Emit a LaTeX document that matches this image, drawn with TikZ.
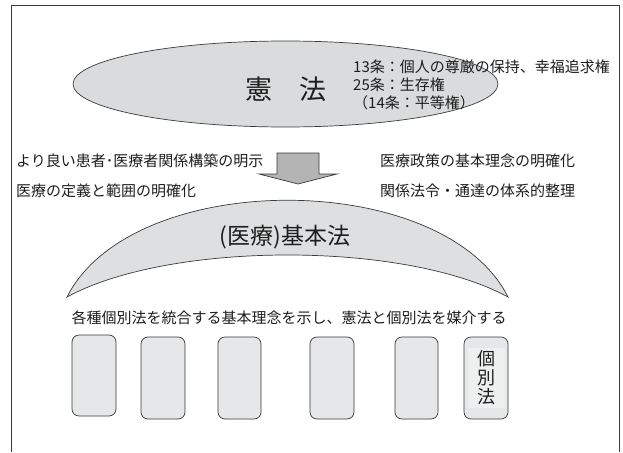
\documentclass[tikz,border=0pt]{standalone}
\usepackage{fontspec}
\setmainfont{Noto Sans CJK JP}
\usetikzlibrary{shapes.geometric}
\definecolor{linec}{HTML}{3A3A3A}
\definecolor{txtc}{HTML}{1E1E1E}
\definecolor{ellfill}{HTML}{DADBDC}
\definecolor{archfill}{HTML}{DEDFE0}
\definecolor{boxfill}{HTML}{E6E7E8}
\definecolor{boxinner}{HTML}{EEEFEF}
\definecolor{arrowfill}{HTML}{B4B4B4}
\begin{document}
\begin{tikzpicture}[x=1pt,y=-1pt,
  frame/.style={draw=linec,line width=0.9pt},
  shape line/.style={draw=linec,line width=0.7pt},
  lbl/.style={inner sep=0pt,text=txtc,font=\fontsize{15}{18}\selectfont},
  lblw/.style={lbl,anchor=west},
  ibox/.style={shape line,fill=boxfill,rounded corners=7pt,minimum width=44pt,minimum height=82pt,inner sep=0pt}
]
\useasboundingbox (0,0) rectangle (623,452);
\fill[white] (0,0) rectangle (623,452);
\draw[frame] (11,452) -- (11,5) -- (619,5) -- (619,452);

% constitution ellipse
\node[ellipse,shape line,fill=ellfill,minimum width=425pt,minimum height=86pt,inner sep=0pt] (kenpo) at (285.5,84) {};
\node[inner sep=0pt,text=txtc,font=\fontsize{27}{30}\selectfont] (kenpotxt) at (285.5,89) {憲　法};
\node[lblw] (a13) at (353,67) {13条：個人の尊厳の保持、幸福追求権};
\node[lblw] (a25) at (353,85) {25条：生存権};
\node[lblw] (a14) at (353,103) {（14条：平等権）};

% side texts
\node[lblw] (l1) at (16,161) {より良い患者･医療者関係構築の明示};
\node[lblw] (l2) at (16,191) {医療の定義と範囲の明確化};
\node[lblw] (r1) at (380,161) {医療政策の基本理念の明確化};
\node[lblw] (r2) at (380,191) {関係法令・通達の体系的整理};

% block arrow
\draw[shape line,fill=arrowfill] (277,153) -- (319,153) -- (319,174) -- (337,174)
  -- (298,184) -- (259,174) -- (277,174) -- cycle;

% arch of basic law
\draw[shape line,fill=archfill] (67,297) .. controls (132,168) and (443,168) .. (508,297)
  .. controls (405,241) and (170,241) .. cycle;
\node[inner sep=0pt,text=txtc,font=\fontsize{23}{26}\selectfont] (kihon) at (285,237) {(医療)基本法};

% caption
\node[lbl] (cap) at (289,318) {各種個別法を統合する基本理念を示し、憲法と個別法を媒介する};

% individual laws
\node[ibox,minimum height=81pt] (b1) at (94,375.5) {};
\node[ibox] (b2) at (163,378) {};
\node[ibox,minimum width=43pt] (b3) at (239.5,378) {};
\node[ibox] (b4) at (332,378) {};
\node[ibox,minimum width=43pt] (b5) at (416.5,378) {};
\node[ibox] (b6) at (486,378) {};
\node[inner sep=0pt,fill=boxinner,minimum width=37pt,minimum height=60pt,text=txtc,
  align=center,font=\fontsize{18}{19}\selectfont] (b6t) at (b6) {個\\別\\法};
\end{tikzpicture}
\end{document}
